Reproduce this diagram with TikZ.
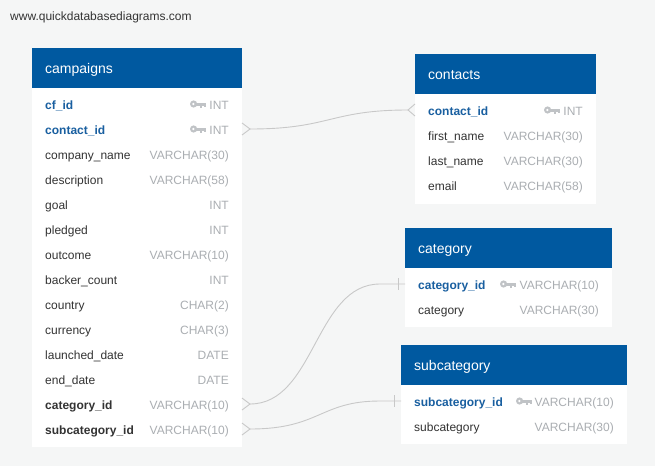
\documentclass[tikz,border=0pt]{standalone}
\usepackage{fontspec}
\setmainfont{Liberation Sans}
\definecolor{bgc}{RGB}{245,246,246}
\definecolor{hdrc}{RGB}{0,89,160}
\definecolor{pkc}{RGB}{25,95,160}
\definecolor{txc}{RGB}{51,51,51}
\definecolor{tyc}{RGB}{170,174,178}
\definecolor{keyc}{RGB}{192,195,198}
\definecolor{linec}{RGB}{200,200,200}
\tikzset{
  hdr/.style={fill=hdrc, draw=none, inner sep=0pt},
  tbody/.style={fill=white, draw=none, inner sep=0pt},
  hdrtext/.style={text=white, inner sep=0pt, font=\fontsize{14pt}{16pt}\selectfont},
  col/.style={text=txc, inner sep=0pt, font=\fontsize{12pt}{14pt}\selectfont},
  pk/.style={text=pkc, inner sep=0pt, font=\fontsize{12pt}{14pt}\selectfont\bfseries},
  fk/.style={text=txc, inner sep=0pt, font=\fontsize{12pt}{14pt}\selectfont\bfseries},
  typ/.style={text=tyc, inner sep=0pt, font=\fontsize{12pt}{14pt}\selectfont},
  rel/.style={draw=linec, line width=0.9pt},
  keyic/.pic={
    \fill[keyc] (3.6,0) circle[radius=3.6pt];
    \fill[white] (3.3,0) circle[radius=1.3pt];
    \fill[keyc] (6,-1.5) rectangle (15.5,1.5);
    \fill[keyc] (10.3,1.5) rectangle (12.2,3.6);
    \fill[keyc] (13.6,1.5) rectangle (15.5,3.2);
  }
}
\newcommand\tabrow[7]{%
  \node[#2, anchor=base west] (#1) at (#3,#4+5.2) {#5};
  \node[typ, anchor=base east] (#1-t) at (#6,#4+5.2) {#7};
}
\begin{document}
\begin{tikzpicture}[x=1pt,y=-1pt]
\useasboundingbox (0,0) rectangle (655,466);
\fill[bgc] (0,0) rectangle (655,466);
\node[anchor=base west, text=txc, inner sep=0pt, font=\fontsize{12pt}{14pt}\selectfont] (site) at (10,20.3) {www.quickdatabasediagrams.com};

% campaigns
\node[hdr, minimum width=210pt, minimum height=40pt, anchor=north west] (campaigns) at (32,48) {};
\node[tbody, minimum width=210pt, minimum height=359pt, anchor=north west] (campaigns-body) at (32,88) {};
\node[hdrtext, anchor=base west] (campaigns-title) at (45,73.5) {campaigns};
\tabrow{c1}{pk}{45}{104}{cf\_id}{229}{INT}
\tabrow{c2}{pk}{45}{129}{contact\_id}{229}{INT}
\tabrow{c3}{col}{45}{154}{company\_name}{229}{VARCHAR(30)}
\tabrow{c4}{col}{45}{179}{description}{229}{VARCHAR(58)}
\tabrow{c5}{col}{45}{204}{goal}{229}{INT}
\tabrow{c6}{col}{45}{229}{pledged}{229}{INT}
\tabrow{c7}{col}{45}{254}{outcome}{229}{VARCHAR(10)}
\tabrow{c8}{col}{45}{279}{backer\_count}{229}{INT}
\tabrow{c9}{col}{45}{304}{country}{229}{CHAR(2)}
\tabrow{c10}{col}{45}{329}{currency}{229}{CHAR(3)}
\tabrow{c11}{col}{45}{354}{launched\_date}{229}{DATE}
\tabrow{c12}{col}{45}{379}{end\_date}{229}{DATE}
\tabrow{c13}{fk}{45}{404}{category\_id}{229}{VARCHAR(10)}
\tabrow{c14}{fk}{45}{429}{subcategory\_id}{229}{VARCHAR(10)}
\pic at (190,104) {keyic};
\pic at (190,129) {keyic};

% contacts
\node[hdr, minimum width=181pt, minimum height=40pt, anchor=north west] (contacts) at (415,54) {};
\node[tbody, minimum width=181pt, minimum height=110pt, anchor=north west] (contacts-body) at (415,94) {};
\node[hdrtext, anchor=base west] (contacts-title) at (428,79.5) {contacts};
\tabrow{k1}{pk}{428}{110}{contact\_id}{583}{INT}
\tabrow{k2}{col}{428}{135}{first\_name}{583}{VARCHAR(30)}
\tabrow{k3}{col}{428}{160}{last\_name}{583}{VARCHAR(30)}
\tabrow{k4}{col}{428}{185}{email}{583}{VARCHAR(58)}
\pic at (544,110) {keyic};

% category
\node[hdr, minimum width=207pt, minimum height=40pt, anchor=north west] (category) at (405,228) {};
\node[tbody, minimum width=207pt, minimum height=59pt, anchor=north west] (category-body) at (405,268) {};
\node[hdrtext, anchor=base west] (category-title) at (418,253.5) {category};
\tabrow{g1}{pk}{418}{284}{category\_id}{599}{VARCHAR(10)}
\tabrow{g2}{col}{418}{309}{category}{599}{VARCHAR(30)}
\pic at (500,284) {keyic};

% subcategory
\node[hdr, minimum width=226pt, minimum height=40pt, anchor=north west] (subcategory) at (401,345) {};
\node[tbody, minimum width=226pt, minimum height=59pt, anchor=north west] (subcategory-body) at (401,385) {};
\node[hdrtext, anchor=base west] (subcategory-title) at (414,370.5) {subcategory};
\tabrow{s1}{pk}{414}{401}{subcategory\_id}{614}{VARCHAR(10)}
\tabrow{s2}{col}{414}{426}{subcategory}{614}{VARCHAR(30)}
\pic at (516,401) {keyic};

% connector end points
\coordinate (e1a) at (242,129); \coordinate (v1a) at (250,129);
\coordinate (e1b) at (415,110); \coordinate (v1b) at (408,110);
\coordinate (e2a) at (242,404); \coordinate (v2a) at (250,404);
\coordinate (e2b) at (405,284); \coordinate (b2b) at (398,284);
\coordinate (e3a) at (242,429); \coordinate (v3a) at (250,429);
\coordinate (e3b) at (401,401); \coordinate (b3b) at (394,401);

% campaigns - contacts
\draw[rel] ([yshift=6pt]e1a) -- (v1a) -- ([yshift=-6pt]e1a);
\draw[rel] (v1a) .. controls (330,129) and (330,110) .. (v1b);
\draw[rel] ([yshift=6pt]e1b) -- (v1b) -- ([yshift=-6pt]e1b);

% campaigns - category
\draw[rel] ([yshift=6pt]e2a) -- (v2a) -- ([yshift=-6pt]e2a);
\draw[rel] (v2a) .. controls (315,404) and (315,284) .. (380,284) -- (e2b);
\draw[rel] ([yshift=6pt]b2b) -- ([yshift=-6pt]b2b);

% campaigns - subcategory
\draw[rel] ([yshift=6pt]e3a) -- (v3a) -- ([yshift=-6pt]e3a);
\draw[rel] (v3a) .. controls (320,429) and (320,401) .. (380,401) -- (e3b);
\draw[rel] ([yshift=6pt]b3b) -- ([yshift=-6pt]b3b);
\end{tikzpicture}
\end{document}
